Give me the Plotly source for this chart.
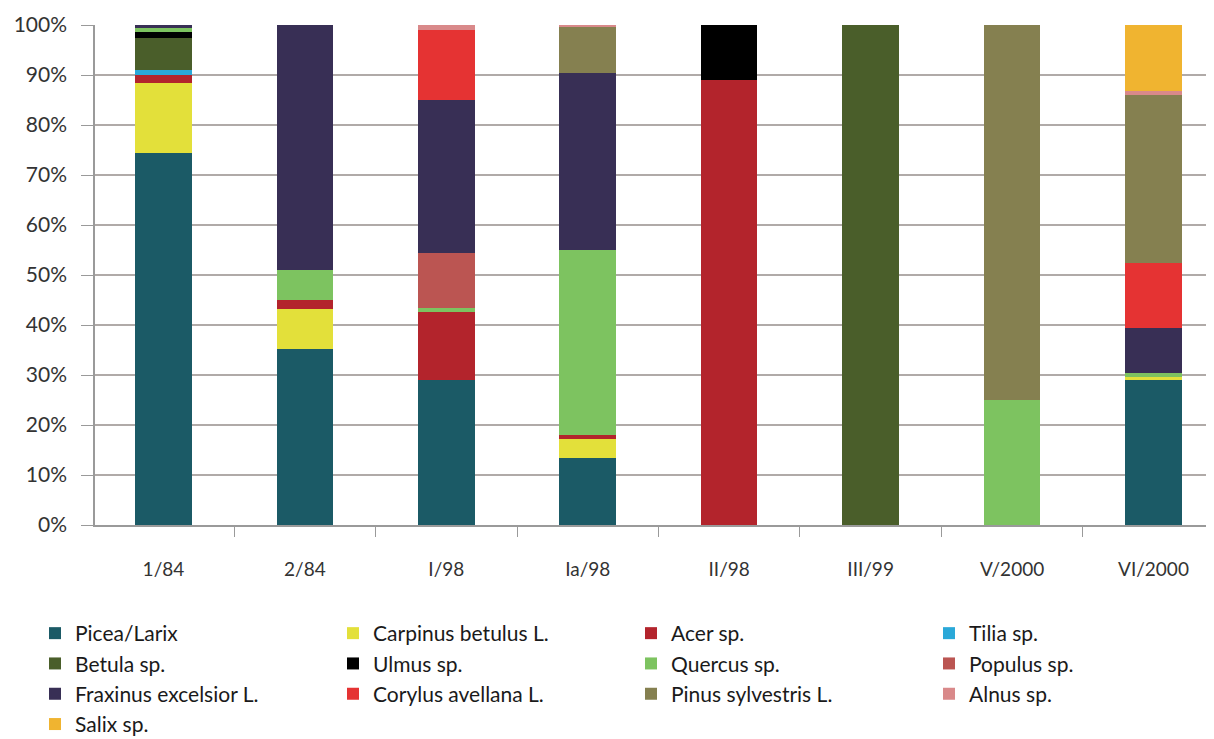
import plotly.graph_objects as go

categories = ["1/84", "2/84", "I/98", "Ia/98", "II/98", "III/99", "V/2000", "VI/2000"]

species = [
    "Picea/Larix", "Carpinus betulus L.", "Acer sp.", "Tilia sp.",
    "Betula sp.", "Ulmus sp.", "Quercus sp.", "Populus sp.",
    "Fraxinus excelsior L.", "Corylus avellana L.", "Pinus sylvestris L.",
    "Alnus sp.", "Salix sp.",
]

# share of each taxon per sample (%), in stacking order
picea = [74.5, 35.3, 29.0, 13.5, 0, 0, 0, 29.1]
carpinus = [14.0, 8.0, 0, 3.8, 0, 0, 0, 0.6]
acer = [1.6, 1.8, 13.7, 0.7, 89.0, 0, 0, 0]
tilia = [1.0, 0, 0, 0, 0, 0, 0, 0]
betula = [6.3, 0, 0, 0, 0, 100.0, 0, 0]
ulmus = [1.2, 0, 0, 0, 11.0, 0, 0, 0]
quercus = [0.9, 5.9, 0.7, 37.0, 0, 0, 25.0, 0.8]
populus = [0, 0, 11.1, 0, 0, 0, 0, 0]
fraxinus = [0.5, 49.0, 30.6, 35.4, 0, 0, 0, 9.0]
corylus = [0, 0, 13.9, 0, 0, 0, 0, 13.0]
pinus = [0, 0, 0, 9.3, 0, 0, 75.0, 33.5]
alnus = [0, 0, 1.0, 0.3, 0, 0, 0, 0.8]
salix = [0, 0, 0, 0, 0, 0, 0, 13.2]

values = [picea, carpinus, acer, tilia, betula, ulmus, quercus, populus,
          fraxinus, corylus, pinus, alnus, salix]

colors = [
    "#1b5a66", "#e3e03a", "#b3242c", "#2aa8d8", "#4a5e2a", "#000000",
    "#7dc360", "#bb5552", "#382f55", "#e53333", "#858050", "#d9898a",
    "#f0b430",
]

fig = go.Figure()
for name, vals, col in zip(species, values, colors):
    fig.add_trace(
        go.Bar(
            x=categories,
            y=vals,
            name=name,
            marker=dict(color=col, line=dict(width=0)),
            width=0.4,
        )
    )

# page body has an 8px margin, so the figure is a little smaller than the window
fig.update_layout(
    barmode="stack",
    width=1206,
    height=731,
    margin=dict(l=87, r=0, t=17, b=214, autoexpand=False),
    plot_bgcolor="white",
    paper_bgcolor="white",
    font=dict(family="Lato, Open Sans, sans-serif", size=19, color="#333333"),
    showlegend=True,
    legend=dict(
        orientation="h",
        x=-0.0536,
        y=-0.176,
        xanchor="left",
        yanchor="top",
        entrywidth=253,
        entrywidthmode="pixels",
        font=dict(size=21, color="#1a1a1a"),
        traceorder="normal",
        itemclick=False,
    ),
)

fig.update_xaxes(
    type="category",
    range=[-0.484, 7.428],
    showline=True,
    linecolor="#9a9a9a",
    linewidth=1.5,
    ticks="outside",
    tickson="boundaries",
    ticklen=10,
    tickcolor="#9a9a9a",
    showgrid=False,
    ticklabelstandoff=26,
)

fig.update_yaxes(
    range=[0, 100],
    tickvals=list(range(0, 101, 10)),
    ticktext=[f"{v}%" for v in range(0, 101, 10)],
    tickfont=dict(size=21),
    showline=True,
    linecolor="#9a9a9a",
    linewidth=1.5,
    ticks="outside",
    ticklen=12,
    tickcolor="#9a9a9a",
    ticklabelstandoff=10,
    showgrid=True,
    gridcolor="#b0aaa8",
    gridwidth=1.5,
    zeroline=False,
)

fig.write_html("out.html")
